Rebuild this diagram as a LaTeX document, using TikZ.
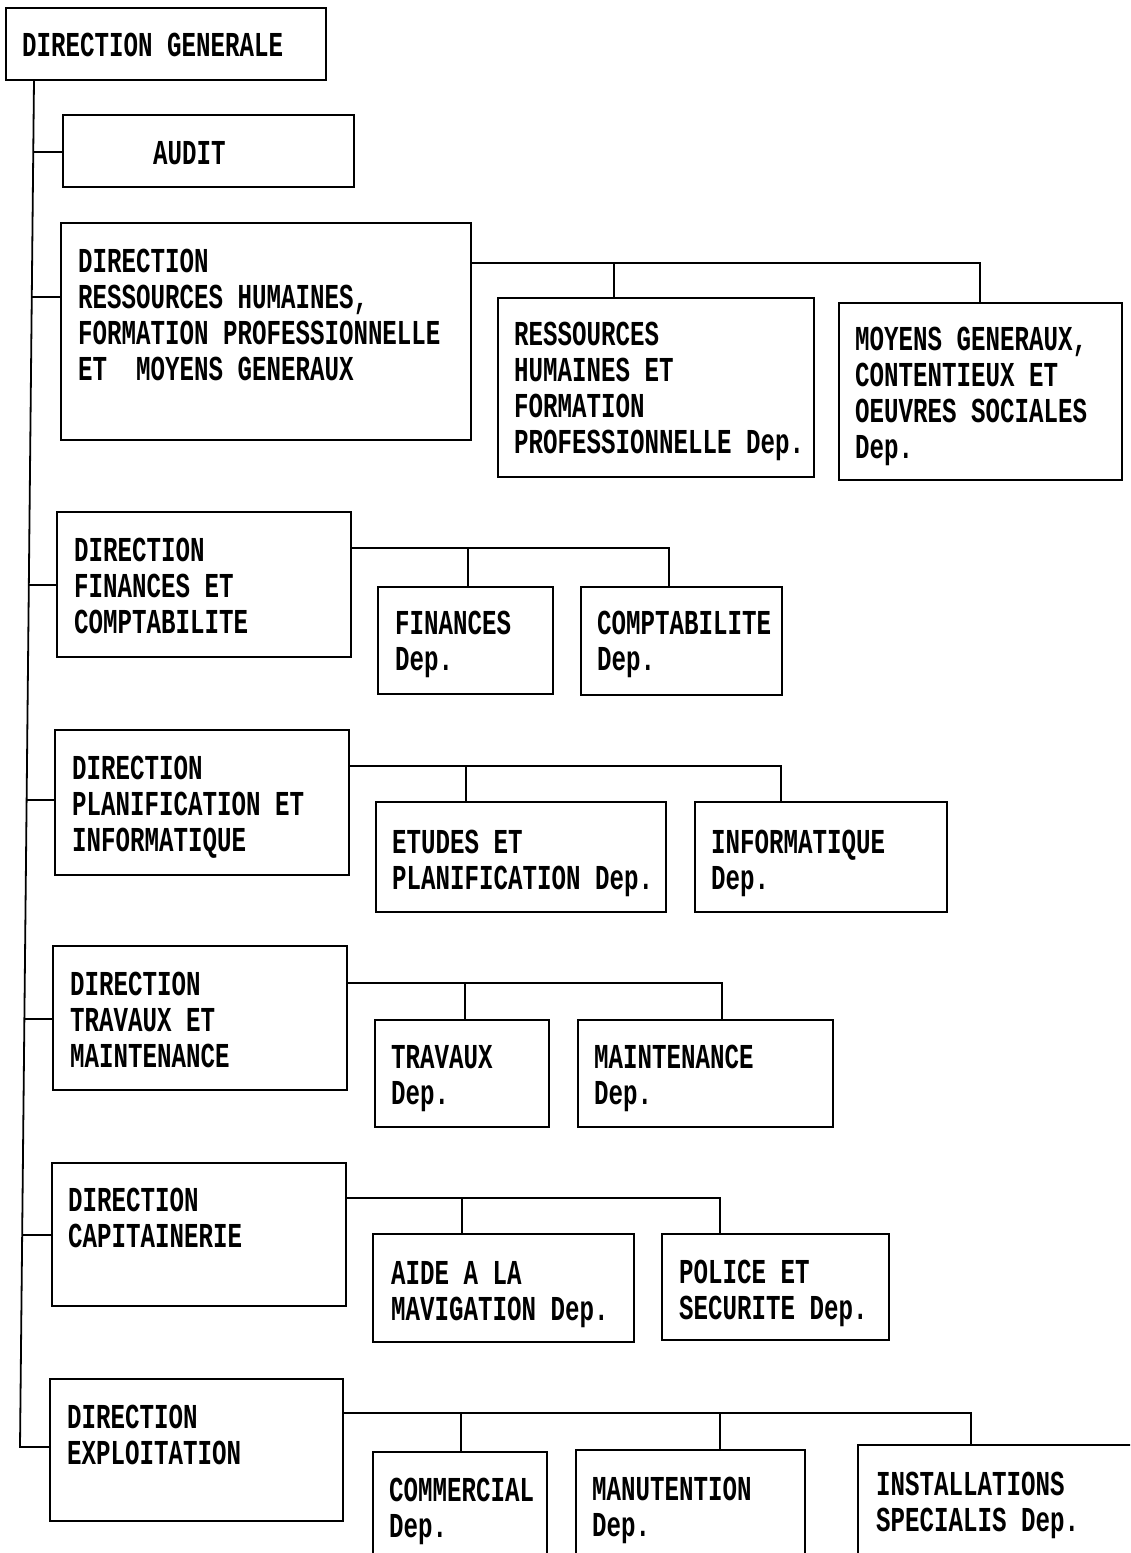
\documentclass[tikz,border=0pt]{standalone}
\usepackage{fontspec}
\usetikzlibrary{calc}
\newfontfamily\scanfont[FakeStretch=0.69]{Liberation Mono}
\newcommand\orgbox[5]{\node[box, minimum width={#4-#2}, minimum height={#5-#3}] (#1) at (#2,#3) {};}
\newcommand\orgtext[4]{\node[txt] (#1) at (#2,#3) {#4};}
\begin{document}
\begin{tikzpicture}[x=1pt,y=-1pt,
  box/.style={draw, line width=1.7pt, anchor=north west, inner sep=0pt, outer sep=0pt},
  txt/.style={anchor=north west, inner sep=0pt, align=left, font=\scanfont\bfseries\fontsize{35}{36}\selectfont},
  link/.style={line width=1.8pt}]
\clip (0,0) rectangle (1130,1553);
\fill[white] (0,0) rectangle (1130,1553);
% boxes and texts
\orgbox{dg}{6}{8}{326}{80}
\orgtext{dgt}{22}{33}{DIRECTION GENERALE}
\orgbox{audit}{63}{115}{354}{187}
\orgtext{auditt}{153}{141}{AUDIT}
\orgbox{rhd}{61}{223}{471}{440}
\orgtext{rhdt}{78}{249}{DIRECTION\\RESSOURCES HUMAINES,\\FORMATION PROFESSIONNELLE\\ET~~MOYENS GENERAUX}
\orgbox{rhdep}{498}{298}{814}{477}
\orgtext{rhdept}{514}{322}{RESSOURCES\\HUMAINES ET\\FORMATION\\PROFESSIONNELLE Dep.}
\orgbox{mg}{839}{303}{1122}{480}
\orgtext{mgt}{855}{327}{MOYENS GENERAUX,\\CONTENTIEUX ET\\OEUVRES SOCIALES\\Dep.}
\orgbox{find}{57}{512}{351}{657}
\orgtext{findt}{74}{538}{DIRECTION\\FINANCES ET\\COMPTABILITE}
\orgbox{fin}{378}{587}{553}{694}
\orgtext{fint}{395}{611}{FINANCES\\Dep.}
\orgbox{compta}{581}{587}{782}{695}
\orgtext{comptat}{597}{611}{COMPTABILITE\\Dep.}
\orgbox{pland}{55}{730}{349}{875}
\orgtext{plandt}{72}{756}{DIRECTION\\PLANIFICATION ET\\INFORMATIQUE}
\orgbox{etudes}{376}{802}{666}{912}
\orgtext{etudest}{392}{830}{ETUDES ET\\PLANIFICATION Dep.}
\orgbox{info}{695}{802}{947}{912}
\orgtext{infot}{711}{830}{INFORMATIQUE\\Dep.}
\orgbox{travd}{53}{946}{347}{1090}
\orgtext{travdt}{70}{972}{DIRECTION\\TRAVAUX ET\\MAINTENANCE}
\orgbox{trav}{375}{1020}{549}{1127}
\orgtext{travt}{391}{1045}{TRAVAUX\\Dep.}
\orgbox{maint}{578}{1020}{833}{1127}
\orgtext{maintt}{594}{1045}{MAINTENANCE\\Dep.}
\orgbox{capd}{52}{1163}{346}{1306}
\orgtext{capdt}{68}{1188}{DIRECTION\\CAPITAINERIE}
\orgbox{aide}{373}{1234}{634}{1342}
\orgtext{aidet}{391}{1261}{AIDE A LA\\MAVIGATION Dep.}
\orgbox{police}{662}{1234}{889}{1340}
\orgtext{policet}{679}{1260}{POLICE ET\\SECURITE Dep.}
\orgbox{expd}{50}{1379}{343}{1521}
\orgtext{expdt}{67}{1405}{DIRECTION\\EXPLOITATION}
\orgbox{comm}{373}{1452}{547}{1600}
\orgtext{commt}{389}{1478}{COMMERCIAL\\Dep.}
\orgbox{manut}{576}{1450}{805}{1600}
\orgtext{manutt}{592}{1477}{MANUTENTION\\Dep.}
\orgbox{inst}{858}{1445}{1200}{1600}
\orgtext{instt}{876}{1472}{INSTALLATIONS\\SPECIALIS Dep.}
% trunk
\coordinate (t0) at (dg.south -| 34,0);
\coordinate (t1) at (20,1447);
\draw[link] (t0) -- (t1) -- (t1 -| expd.west);
\coordinate (sA) at ($(t0)!0.0527!(t1)$);
\coordinate (sB) at ($(t0)!0.1587!(t1)$);
\coordinate (sC) at ($(t0)!0.3694!(t1)$);
\coordinate (sD) at ($(t0)!0.5267!(t1)$);
\coordinate (sE) at ($(t0)!0.6869!(t1)$);
\coordinate (sF) at ($(t0)!0.8449!(t1)$);
\draw[link] (sA) -- (sA -| audit.west);
\draw[link] (sB) -- (sB -| rhd.west);
\draw[link] (sC) -- (sC -| find.west);
\draw[link] (sD) -- (sD -| pland.west);
\draw[link] (sE) -- (sE -| travd.west);
\draw[link] (sF) -- (sF -| capd.west);
% buses
\coordinate (rb) at (rhd.east |- 0,263);
\coordinate (rb1) at (614,263);
\coordinate (rb2) at (980,263);
\draw[link] (rb) -- (rb2) -- (rb2 |- mg.north);
\draw[link] (rb1) -- (rb1 |- rhdep.north);
\coordinate (fb) at (find.east |- 0,548);
\coordinate (fb1) at (468,548);
\coordinate (fb2) at (669,548);
\draw[link] (fb) -- (fb2) -- (fb2 |- compta.north);
\draw[link] (fb1) -- (fb1 |- fin.north);
\coordinate (pb) at (pland.east |- 0,766);
\coordinate (pb1) at (466,766);
\coordinate (pb2) at (781,766);
\draw[link] (pb) -- (pb2) -- (pb2 |- info.north);
\draw[link] (pb1) -- (pb1 |- etudes.north);
\coordinate (tb) at (travd.east |- 0,983);
\coordinate (tb1) at (465,983);
\coordinate (tb2) at (722,983);
\draw[link] (tb) -- (tb2) -- (tb2 |- maint.north);
\draw[link] (tb1) -- (tb1 |- trav.north);
\coordinate (cb) at (capd.east |- 0,1198);
\coordinate (cb1) at (462,1198);
\coordinate (cb2) at (720,1198);
\draw[link] (cb) -- (cb2) -- (cb2 |- police.north);
\draw[link] (cb1) -- (cb1 |- aide.north);
\coordinate (eb) at (expd.east |- 0,1413);
\coordinate (eb1) at (461,1413);
\coordinate (eb2) at (720,1413);
\coordinate (eb3) at (971,1413);
\draw[link] (eb) -- (eb3) -- (eb3 |- inst.north);
\draw[link] (eb1) -- (eb1 |- comm.north);
\draw[link] (eb2) -- (eb2 |- manut.north);
\end{tikzpicture}
\end{document}
